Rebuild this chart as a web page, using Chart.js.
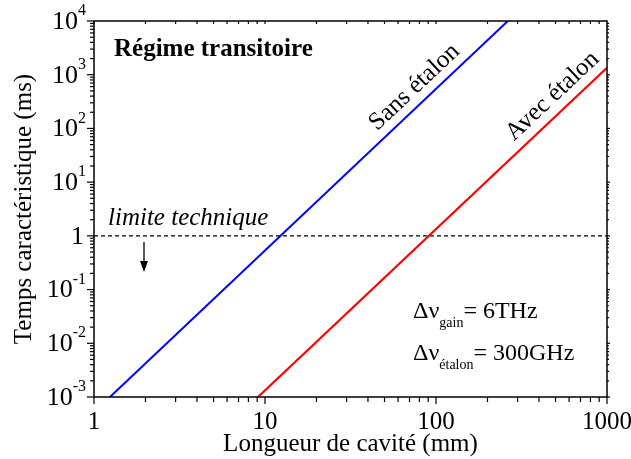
<!DOCTYPE html>
<html>
<head>
<meta charset="utf-8">
<script src="https://cdn.jsdelivr.net/npm/chart.js@4/dist/chart.umd.min.js"></script>
<style>
  body { margin: 0; background: #fff; }
  #chart1 { display: block; }
</style>
</head>
<body>
<canvas id="chart1" width="631" height="459"></canvas>
<script>
// valeurs (log-log, pente ~3)
const sansEtalon = [{ x: 1.24, y: 1e-3 }, { x: 263, y: 1e4 }];
const avecEtalon = [{ x: 9.1, y: 1e-3 }, { x: 1000, y: 1350 }];
const limiteTechnique = [{ x: 1, y: 1 }, { x: 1000, y: 1 }];
const xTickValues = [1, 10, 100, 1000];
const xTickLabels = ['1', '10', '100', '1000'];
const yTickExps = [-3, -2, -1, 0, 1, 2, 3, 4];

const SERIF = '"Liberation Serif", "Times New Roman", serif';

const decorPlugin = {
    id: 'decor',
    afterDraw(chart) {
        const ctx = chart.ctx;
        const xs = chart.scales.x, ys = chart.scales.y;
        const a = chart.chartArea;
        ctx.save();
        ctx.strokeStyle = '#000';
        ctx.fillStyle = '#000';

        // cadre
        ctx.lineWidth = 1.5;
        ctx.strokeRect(a.left, a.top, a.right - a.left, a.bottom - a.top);

        // graduations
        ctx.lineWidth = 1.2;
        const line = (x1, y1, x2, y2) => {
            ctx.beginPath(); ctx.moveTo(x1, y1); ctx.lineTo(x2, y2); ctx.stroke();
        };
        for (let d = 0; d < 3; d++) {
            for (let m = 1; m <= 9; m++) {
                const px = xs.getPixelForValue(m * Math.pow(10, d));
                const len = m === 1 ? 7 : 5;
                line(px, a.bottom, px, a.bottom + len);
                line(px, a.top, px, a.top + 3);
            }
        }
        line(a.right, a.bottom, a.right, a.bottom + 7);
        for (let e = -3; e < 4; e++) {
            for (let m = 1; m <= 9; m++) {
                const py = ys.getPixelForValue(m * Math.pow(10, e));
                const len = m === 1 ? 7 : 4;
                line(a.left - len, py, a.left, py);
                line(a.right, py, a.right + (m === 1 ? 3 : 2), py);
            }
        }
        line(a.left - 7, a.top, a.left, a.top);

        // étiquettes axe x
        ctx.font = '25px ' + SERIF;
        ctx.textAlign = 'center';
        ctx.textBaseline = 'alphabetic';
        xTickValues.forEach((v, i) => {
            ctx.fillText(xTickLabels[i], xs.getPixelForValue(v), 429);
        });

        // étiquettes axe y
        ctx.textBaseline = 'middle';
        yTickExps.forEach(e => {
            const py = ys.getPixelForValue(Math.pow(10, e));
            if (e === 0) {
                ctx.font = '26px ' + SERIF;
                ctx.textAlign = 'right';
                ctx.fillText('1', a.left - 10, py + 1);
                return;
            }
            ctx.font = '16px ' + SERIF;
            const sup = e < 0 ? '-' + (-e) : String(e);
            const wSup = ctx.measureText(sup).width;
            ctx.textAlign = 'right';
            ctx.fillText(sup, a.left - 8, py - 10);
            ctx.font = '26px ' + SERIF;
            ctx.fillText('10', a.left - 8 - wSup, py + 1);
        });

        // titres des axes
        ctx.font = '25px ' + SERIF;
        ctx.textAlign = 'center';
        ctx.textBaseline = 'alphabetic';
        ctx.fillText('Longueur de cavité (mm)', (a.left + a.right) / 2, 451);
        ctx.save();
        ctx.translate(31, (a.top + a.bottom) / 2);
        ctx.rotate(-Math.PI / 2);
        ctx.fillText('Temps caractéristique (ms)', 0, 0);
        ctx.restore();

        // annotations
        ctx.font = 'bold 25px ' + SERIF;
        ctx.textAlign = 'left';
        ctx.fillText('Régime transitoire', 114, 56);

        ctx.font = 'italic 25px ' + SERIF;
        ctx.fillText('limite technique', 108, 225);

        // flèche
        ctx.lineWidth = 1.3;
        line(144, 242, 144, 266);
        ctx.beginPath();
        ctx.moveTo(140, 261); ctx.lineTo(148, 261); ctx.lineTo(144, 272); ctx.closePath();
        ctx.fill();

        // étiquettes des courbes
        const ang = -Math.atan2(3 * (ys.getPixelForValue(1) - ys.getPixelForValue(10)),
                                xs.getPixelForValue(10) - xs.getPixelForValue(1));
        ctx.font = '25px ' + SERIF;
        ctx.textAlign = 'center';
        [['Sans étalon', 419, 92], ['Avec étalon', 557, 101]].forEach(([t, x, y]) => {
            ctx.save();
            ctx.translate(x, y);
            ctx.rotate(ang);
            ctx.fillText(t, 0, 0);
            ctx.restore();
        });

        // largeurs spectrales
        const delta = (sub, rest, x, y) => {
            ctx.textAlign = 'left';
            ctx.font = '24px ' + SERIF;
            ctx.fillText('\u0394\u03bd', x, y);
            let w = ctx.measureText('\u0394\u03bd').width;
            ctx.font = '14px ' + SERIF;
            ctx.fillText(sub, x + w, y + 9);
            w += ctx.measureText(sub).width;
            ctx.font = '24px ' + SERIF;
            ctx.fillText(rest, x + w, y);
        };
        delta('gain', '= 6THz', 413, 318);
        delta('étalon', '= 300GHz', 413, 360);

        ctx.restore();
    }
};

const ctx = document.getElementById('chart1');
const config = {
    type: 'scatter',
    data: {
        datasets: [{
            label: 'Sans étalon',
            data: sansEtalon,
            showLine: true,
            borderColor: '#0000ff',
            borderWidth: 2,
            pointRadius: 0
        }, {
            label: 'Avec étalon',
            data: avecEtalon,
            showLine: true,
            borderColor: '#ff0000',
            borderWidth: 2.2,
            pointRadius: 0
        }, {
            label: 'limite technique',
            data: limiteTechnique,
            showLine: true,
            borderColor: '#000',
            borderWidth: 1.3,
            borderDash: [4, 3],
            pointRadius: 0
        }]
    },
    options: {
        responsive: false,
        animation: false,
        layout: { padding: { left: 0, top: 21, right: 24, bottom: 0 } },
        plugins: { legend: { display: false }, tooltip: { enabled: false } },
        scales: {
            x: {
                type: 'logarithmic', min: 1, max: 1000,
                ticks: { display: false },
                grid: { display: false },
                border: { display: false },
                afterFit(s) { s.height = 62; }
            },
            y: {
                type: 'logarithmic', min: 1e-3, max: 1e4,
                ticks: { display: false },
                grid: { display: false },
                border: { display: false },
                afterFit(s) { s.width = 94; }
            }
        }
    },
    plugins: [decorPlugin]
};
const chart = new Chart(ctx, config);
</script>
</body>
</html>
